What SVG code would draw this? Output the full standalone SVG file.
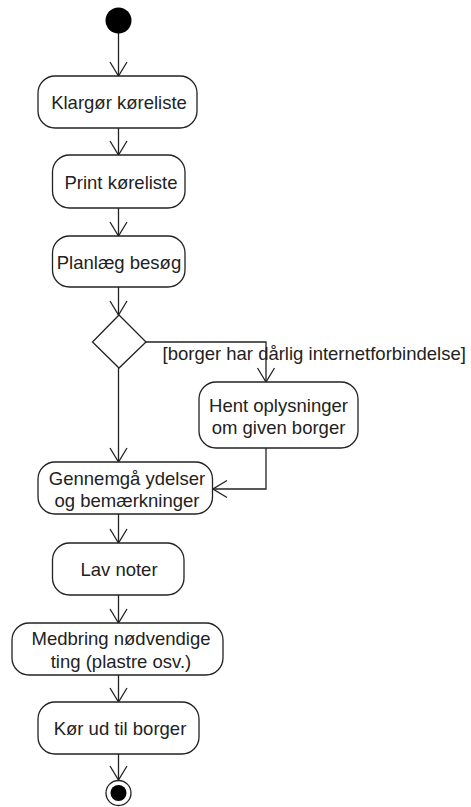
<svg xmlns="http://www.w3.org/2000/svg" width="471" height="807" viewBox="0 0 471 807">
  <style>
    .act { fill: #fff; stroke: #222; stroke-width: 1.3; }
    .lbl { font-family: "Liberation Sans", Arial, sans-serif; font-size: 18.5px; fill: #222; text-anchor: middle; }
    .guard { font-family: "Liberation Sans", Arial, sans-serif; font-size: 18.5px; fill: #222; }
    .flow { fill: none; stroke: #222; stroke-width: 1.3; }
  </style>
  <defs>
    <!-- open V arrowhead for control flows -->
    <marker id="open" viewBox="0 0 16 20" refX="15" refY="10" markerWidth="16" markerHeight="20" markerUnits="userSpaceOnUse" orient="auto">
      <path d="M1,1.5 L15,10 L1,18.5" fill="none" stroke="#222" stroke-width="1.3"/>
    </marker>
  </defs>

  <g id="connectors">
    <path class="flow" d="M118.5,33 V76" marker-end="url(#open)"/>
    <path class="flow" d="M118.5,128 V155" marker-end="url(#open)"/>
    <path class="flow" d="M118.5,208 V236" marker-end="url(#open)"/>
    <path class="flow" d="M118.5,287 V315" marker-end="url(#open)"/>
    <path class="flow" d="M146,342 H266 V382" marker-end="url(#open)"/>
    <path class="flow" d="M118.5,368 V462" marker-end="url(#open)"/>
    <path class="flow" d="M266,448 V489 H213" marker-end="url(#open)"/>
    <path class="flow" d="M118.5,514 V543" marker-end="url(#open)"/>
    <path class="flow" d="M118.5,595 V623" marker-end="url(#open)"/>
    <path class="flow" d="M118.5,675 V702" marker-end="url(#open)"/>
    <path class="flow" d="M118.5,754 V780" marker-end="url(#open)"/>
    <text class="guard" x="162.5" y="360">[borger har dårlig internetforbindelse]</text>
  </g>

  <g id="start">
    <circle cx="118.5" cy="20.5" r="13" fill="#000"/>
  </g>

  <g id="klargoer">
    <rect class="act" x="38" y="76" width="159" height="52" rx="17"/>
    <text class="lbl" x="119" y="109">Klargør køreliste</text>
  </g>

  <g id="print">
    <rect class="act" x="52.5" y="155" width="132.5" height="53" rx="17"/>
    <text class="lbl" x="121" y="189">Print køreliste</text>
  </g>

  <g id="planlaeg">
    <rect class="act" x="52.5" y="236" width="132.5" height="51" rx="17"/>
    <text class="lbl" x="119" y="269">Planlæg besøg</text>
  </g>

  <g id="decision">
    <polygon class="act" points="119,315 146,342 119,368 92.5,342"/>
  </g>

  <g id="hent">
    <rect class="act" x="199" y="382" width="159" height="66" rx="17"/>
    <text class="lbl" x="278.5" y="412">Hent oplysninger</text>
    <text class="lbl" x="278.5" y="434">om given borger</text>
  </g>

  <g id="gennemgaa">
    <rect class="act" x="38" y="462" width="174.5" height="52" rx="17"/>
    <text class="lbl" x="127" y="485">Gennemgå ydelser</text>
    <text class="lbl" x="127" y="507">og bemærkninger</text>
  </g>

  <g id="noter">
    <rect class="act" x="52.5" y="543" width="131.5" height="52" rx="17"/>
    <text class="lbl" x="119" y="576">Lav noter</text>
  </g>

  <g id="medbring">
    <rect class="act" x="12" y="623" width="211" height="52" rx="17"/>
    <text class="lbl" x="121" y="645">Medbring nødvendige</text>
    <text class="lbl" x="121" y="668">ting (plastre osv.)</text>
  </g>

  <g id="koer">
    <rect class="act" x="38" y="702" width="161" height="52" rx="17"/>
    <text class="lbl" x="120" y="735">Kør ud til borger</text>
  </g>

  <g id="end">
    <circle cx="118.5" cy="793" r="12.5" fill="#fff" stroke="#222" stroke-width="1.3"/>
    <circle cx="118.5" cy="793" r="8" fill="#000"/>
  </g>
</svg>
